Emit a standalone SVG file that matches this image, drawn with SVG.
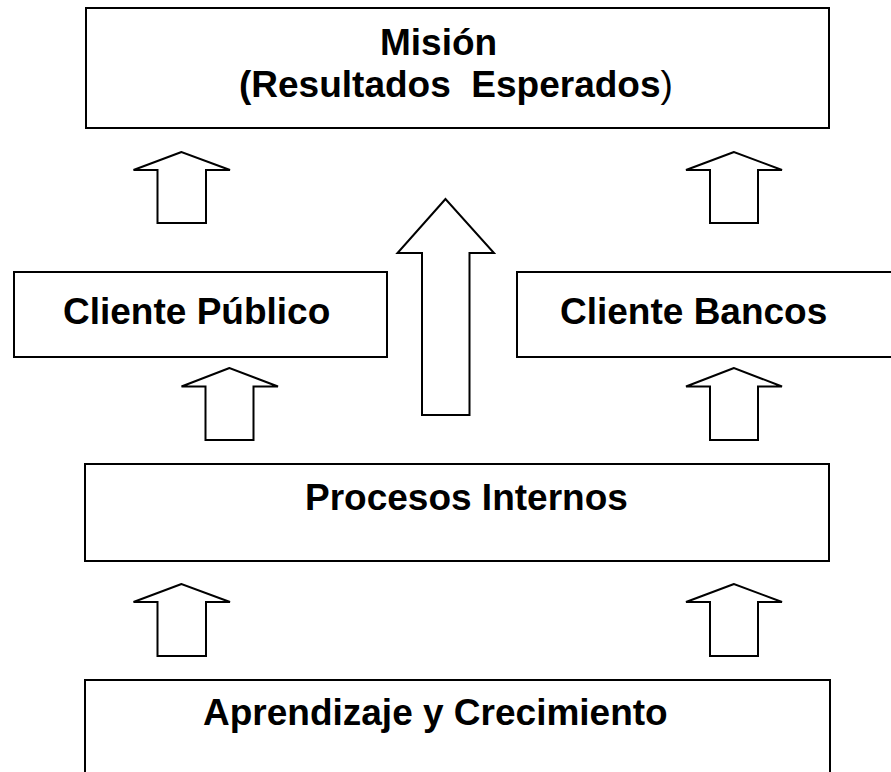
<svg xmlns="http://www.w3.org/2000/svg" width="891" height="772" viewBox="0 0 891 772">
<style>
.box{fill:#fff;stroke:#000;stroke-width:2}
.arr{fill:#fff;stroke:#000;stroke-width:2;stroke-linejoin:miter}
.t{font-family:"Liberation Sans",Arial,sans-serif;font-weight:bold;font-size:37px;fill:#000}
</style>
<rect width="891" height="772" fill="#fff"/>
<g id="mision">
<rect class="box" x="86" y="8" width="743" height="120"/>
<text class="t" x="380" y="55">Misión</text>
<text class="t" x="239" y="97" xml:space="preserve">(Resultados  Esperados<tspan font-weight="normal">)</tspan></text>
</g>
<g id="cliente-publico">
<rect class="box" x="14" y="272" width="373" height="85"/>
<text class="t" x="63" y="324">Cliente Público</text>
</g>
<g id="cliente-bancos">
<rect class="box" x="517" y="272" width="390" height="85"/>
<text class="t" x="560" y="324">Cliente Bancos</text>
</g>
<g id="procesos">
<rect class="box" x="85" y="464" width="744" height="97"/>
<text class="t" x="305" y="510">Procesos Internos</text>
</g>
<g id="aprendizaje">
<rect class="box" x="85" y="680" width="745" height="100"/>
<text class="t" x="203" y="725">Aprendizaje y Crecimiento</text>
</g>
<g id="connectors">
<polygon class="arr" points="181.5,152 133.5,170 157.5,170 157.5,223 206,223 206,170 230,170"/>
<polygon class="arr" points="734,152 686,170 710,170 710,223 758,223 758,170 782,170"/>
<polygon class="arr" points="445.5,199 397.5,253 422,253 422,415 469.5,415 469.5,253 494,253"/>
<polygon class="arr" points="229.5,368 181.5,386.5 205.5,386.5 205.5,440 253.5,440 253.5,386.5 278,386.5"/>
<polygon class="arr" points="734,368 686,386.5 710,386.5 710,440 758,440 758,386.5 782,386.5"/>
<polygon class="arr" points="181.5,584 133.5,602 157.5,602 157.5,656 206,656 206,602 230,602"/>
<polygon class="arr" points="734,584 686,602 710,602 710,656 758,656 758,602 782,602"/>
</g>
</svg>
